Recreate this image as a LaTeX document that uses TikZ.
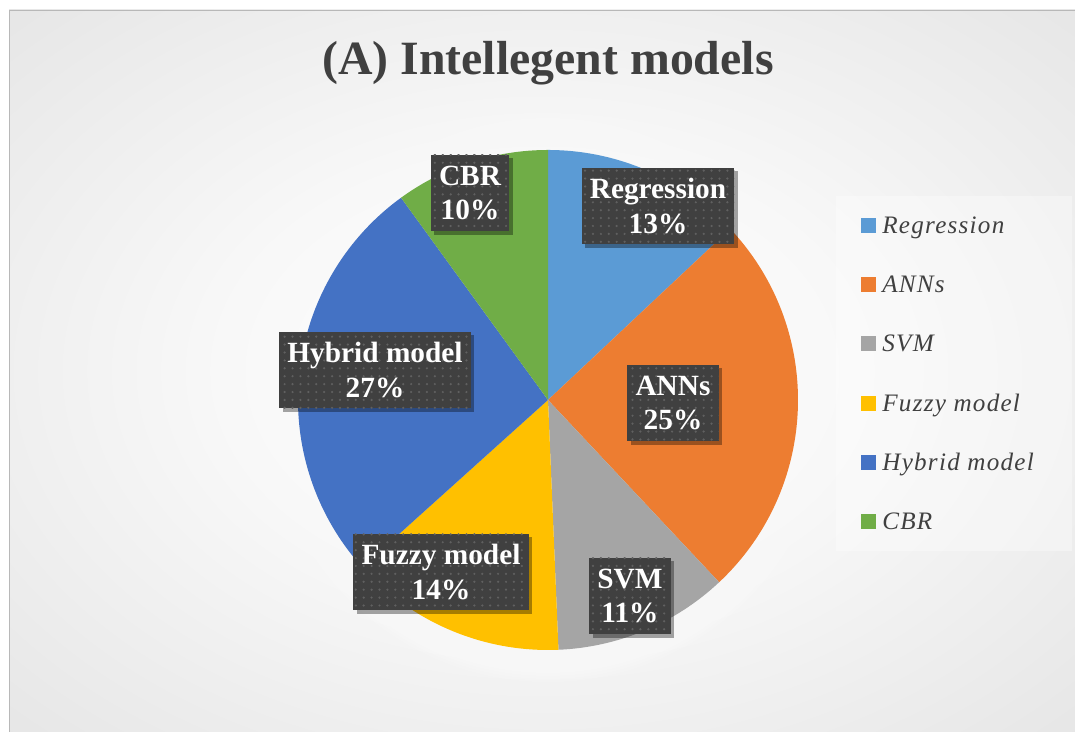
\documentclass[tikz,border=0pt]{standalone}
\usepackage{fontspec}
\setmainfont{Liberation Serif}
\usetikzlibrary{shadows,patterns.meta,shadings}
\definecolor{cReg}{HTML}{5B9BD5}
\definecolor{cAnn}{HTML}{ED7D31}
\definecolor{cSvm}{HTML}{A5A5A5}
\definecolor{cFuz}{HTML}{FFC000}
\definecolor{cHyb}{HTML}{4472C4}
\definecolor{cCbr}{HTML}{70AD47}
\definecolor{boxbg}{HTML}{404040}
\definecolor{boxdot}{HTML}{606060}
\definecolor{titlegray}{HTML}{404040}
\definecolor{legtextc}{HTML}{404040}
\definecolor{bgA}{HTML}{F8F8F8}
\definecolor{bgB}{HTML}{DEDEDE}
\definecolor{bgC}{HTML}{C2C2C2}
\definecolor{bordergray}{HTML}{B8B8B8}
\pgfdeclareradialshading{bgshade}{\pgfpoint{0bp}{0bp}}{color(0bp)=(white); color(15bp)=(bgA); color(45bp)=(bgB); color(71bp)=(bgC); color(100bp)=(bgC)}
\newcommand\pieslice[3]{\fill[#1] (c) -- ++(#2:250) arc[start angle=#2, end angle=#3, radius=250] -- cycle;}
\tikzset{
  databox/.style={fill=boxbg, text=white, align=center, inner xsep=4.6pt, inner ysep=4pt,
    minimum height=43.5pt, font=\fontsize{16.7pt}{19.5pt}\selectfont\bfseries,
    drop shadow={shadow xshift=2pt, shadow yshift=-2pt, opacity=0.35, fill=black},
    postaction={pattern={Dots[distance=4.5pt, radius=0.7pt]}, pattern color=boxdot}},
  legsq/.style={minimum size=8.5pt, inner sep=0pt, anchor=center},
  legtext/.style={anchor=base west, inner sep=0pt, text=legtextc,
    font=\fontsize{14.3pt}{16pt}\selectfont\itshape\addfontfeatures{LetterSpace=5}},
}
\begin{document}
\begin{tikzpicture}[x=0.02cm,y=0.02cm]
\useasboundingbox (0,0) rectangle (1075,732);
\fill[white] (0,0) rectangle (1075,732);
\shade[shading=bgshade] (9,0) rectangle (1075,722);
\draw[bordergray, line width=0.6pt] (9.5,0) -- (9.5,721.5) -- (1075,721.5);

% title
\node[anchor=base, text=titlegray, font=\fontsize{27.2pt}{32pt}\selectfont\bfseries] (title) at (548,657) {(A) Intellegent models};

% pie
\coordinate (c) at (548,332);
\foreach \r in {252,255,...,282} \fill[white, opacity=0.12] (c) circle[radius=\r];
\pieslice{cReg}{90}{43.2}
\pieslice{cAnn}{43.2}{-46.8}
\pieslice{cSvm}{-46.8}{-87.6}
\pieslice{cFuz}{-87.6}{-138}
\pieslice{cHyb}{-138}{-234}
\pieslice{cCbr}{-234}{-270}

% data labels
\node[databox] (lReg) at (658,526) {Regression\\13\%};
\node[databox] (lAnn) at (673,329) {ANNs\\25\%};
\node[databox] (lSvm) at (630,136) {SVM\\11\%};
\node[databox] (lFuz) at (441,160) {Fuzzy model\\14\%};
\node[databox] (lHyb) at (375,362) {Hybrid model\\27\%};
\node[databox] (lCbr) at (470,539) {CBR\\10\%};

% legend
\fill[white, opacity=0.35] (836,181) rectangle (1072,536);
\node[legsq, fill=cReg] (q1) at (868.5,506.5) {};
\node[legsq, fill=cAnn] (q2) at (868.5,447.5) {};
\node[legsq, fill=cSvm] (q3) at (868.5,388.5) {};
\node[legsq, fill=cFuz] (q4) at (868.5,328.5) {};
\node[legsq, fill=cHyb] (q5) at (868.5,269.5) {};
\node[legsq, fill=cCbr] (q6) at (868.5,210.5) {};
\node[legtext] (t1) at (882,498) {Regression};
\node[legtext] (t2) at (882,439) {ANNs};
\node[legtext] (t3) at (882,380) {SVM};
\node[legtext] (t4) at (882,320) {Fuzzy model};
\node[legtext] (t5) at (882,261) {Hybrid model};
\node[legtext] (t6) at (882,202) {CBR};
\end{tikzpicture}
\end{document}
